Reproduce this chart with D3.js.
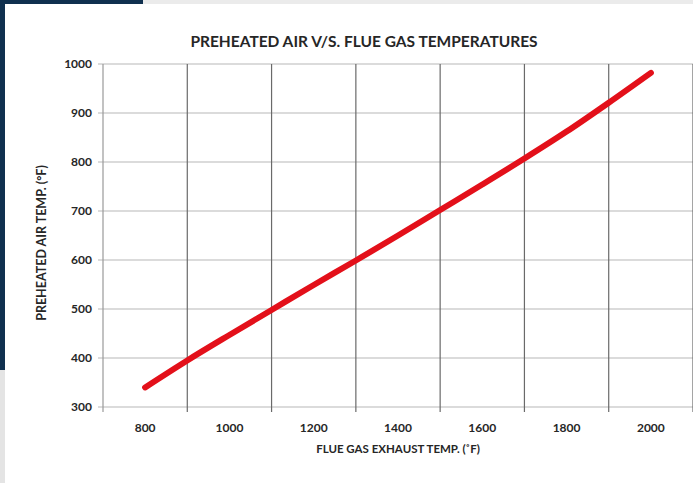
<!DOCTYPE html>
<html>
<head>
<meta charset="utf-8">
<script src="https://cdn.jsdelivr.net/npm/d3@7"></script>
<style>
  html, body { margin: 0; padding: 0; background: #fff; }
  svg { display: block; }
  text { font-family: Lato, "Open Sans", sans-serif; font-weight: bold; fill: #262626; }
</style>
</head>
<body>
<svg id="chart" width="693" height="483"></svg>
<script>
(function() {
'use strict';

// data
var flueGasTemp = [800, 900, 1000, 1100, 1200, 1300, 1400, 1500, 1600, 1700, 1800, 1900, 2000];
var preheatedAirTemp = [340, 395, 447, 498, 549, 599, 650, 702, 754, 807, 862, 921, 982];

var xLabelTicks = [800, 1000, 1200, 1400, 1600, 1800, 2000];
var xGridTicks = [700, 900, 1100, 1300, 1500, 1700, 1900, 2100];
var yTicks = [300, 400, 500, 600, 700, 800, 900, 1000];

var chartTitle = 'PREHEATED AIR V/S. FLUE GAS TEMPERATURES';
var xTitle = 'FLUE GAS EXHAUST TEMP. (\u02daF)';
var yTitle = 'PREHEATED AIR TEMP. (\u00b0F)';

var svg = d3.select('#chart');

// slide backdrop
svg.append('rect').attr('x', 0).attr('y', 0).attr('width', 693).attr('height', 483).attr('fill', '#fff');
svg.append('rect').attr('x', 0).attr('y', 0).attr('width', 693).attr('height', 4).attr('fill', '#ebebeb');
svg.append('rect').attr('x', 0).attr('y', 0).attr('width', 143).attr('height', 4).attr('fill', '#10304f');
svg.append('rect').attr('x', 0).attr('y', 0).attr('width', 5).attr('height', 370).attr('fill', '#10304f');
svg.append('rect').attr('x', 0).attr('y', 370).attr('width', 5).attr('height', 113).attr('fill', '#e4e4e4');

var x = d3.scaleLinear().domain([700, 2100]).range([103, 693]);
var y = d3.scaleLinear().domain([300, 1000]).range([407, 64]);

// horizontal gridlines
svg.append('g')
    .selectAll('line')
    .data(yTicks).enter().append('line')
    .attr('x1', 98).attr('x2', 693)
    .attr('y1', function (d) { return y(d); })
    .attr('y2', function (d) { return y(d); })
    .attr('stroke', '#b8b8b8').attr('stroke-width', 1.2);

// vertical gridlines (between categories)
svg.append('g')
    .selectAll('line')
    .data(xGridTicks).enter().append('line')
    .attr('x1', function (d) { return x(d); })
    .attr('x2', function (d) { return x(d); })
    .attr('y1', y(1000)).attr('y2', y(300) + 5)
    .attr('stroke', function (d) { return d === 700 ? '#999' : '#6a6a6a'; })
    .attr('stroke-width', 1.2);

// y tick labels
svg.append('g')
    .selectAll('text')
    .data(yTicks).enter().append('text')
    .attr('x', 92)
    .attr('y', function (d) { return y(d); })
    .attr('dy', '0.35em')
    .attr('text-anchor', 'end')
    .style('font-size', '12px')
    .text(function (d) { return d; });

// x tick labels
svg.append('g')
    .selectAll('text')
    .data(xLabelTicks).enter().append('text')
    .attr('x', function (d) { return x(d); })
    .attr('y', 432)
    .attr('text-anchor', 'middle')
    .style('font-size', '12px')
    .text(function (d) { return d; });

// the series
var line = d3.line()
    .curve(d3.curveMonotoneX)
    .x(function (d, i) { return x(flueGasTemp[i]); })
    .y(function (d) { return y(d); });

svg.append('path')
    .datum(preheatedAirTemp)
    .attr('d', line)
    .attr('fill', 'none')
    .attr('stroke', '#e3101a')
    .attr('stroke-width', 6)
    .attr('stroke-linecap', 'round')
    .attr('stroke-linejoin', 'round');

// titles
svg.append('text')
    .attr('x', 364).attr('y', 47)
    .attr('text-anchor', 'middle')
    .style('font-size', '15.5px')
    .text(chartTitle);

svg.append('text')
    .attr('x', 398).attr('y', 453)
    .attr('text-anchor', 'middle')
    .style('font-size', '11.5px')
    .text(xTitle);

svg.append('text')
    .attr('transform', 'translate(46,243) rotate(-90)')
    .attr('text-anchor', 'middle')
    .style('font-size', '12.5px')
    .text(yTitle);

})();
</script>
</body>
</html>
